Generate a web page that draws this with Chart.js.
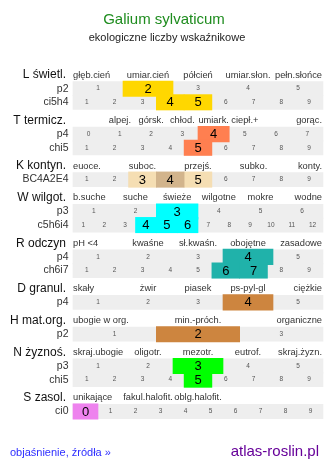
<!DOCTYPE html>
<html lang="pl">
<head>
<meta charset="utf-8">
<title>Galium sylvaticum</title>
<script src="https://cdn.jsdelivr.net/npm/chart.js@4.4.1/dist/chart.umd.min.js"></script>
<style>
  html, body { margin: 0; padding: 0; background: #fff; }
  #wrap { position: relative; width: 334px; height: 469px; }
</style>
</head>
<body>
<div id="wrap"><canvas id="chart"></canvas></div>
<script>
const titleText = 'Galium sylvaticum';
const subtitleText = 'ekologiczne liczby wskaźnikowe';
const linkText = 'objaśnienie, źródła »';
const siteText = 'atlas-roslin.pl';

// one header line per indicator
const groupNames = ['L świetl.', 'T termicz.', 'K kontyn.', 'W wilgot.', 'R odczyn', 'D granul.', 'H mat.org.', 'N żyznoś.', 'S zasol.'];
const groupTicks = [
  ['głęb.cień', 'umiar.cień', 'półcień', 'umiar.słon.', 'pełn.słońce'],
  ['', 'alpej.', 'górsk.', 'chłod.', 'umiark.', 'ciepł.+', '', 'gorąc.'],
  ['euoce.', '', 'suboc.', '', 'przejś.', '', 'subko.', '', 'konty.'],
  ['b.suche', 'suche', 'świeże', 'wilgotne', 'mokre', 'wodne'],
  ['pH <4', 'kwaśne', 'sł.kwaśn.', 'obojętne', 'zasadowe'],
  ['skały', 'żwir', 'piasek', 'ps-pyl-gl', 'ciężkie'],
  ['ubogie w org.', 'min.-próch.', 'organiczne'],
  ['skraj.ubogie', 'oligotr.', 'mezotr.', 'eutrof.', 'skraj.żyzn.'],
  ['unikające', 'fakul.halofit.', 'oblg.halofit.', '', '']
];
const groupColors = ['#ffd700', '#ff7f50', '#d2b48c', '#00ffff', '#20b2aa', '#cd853f', '#cd853f', '#00ff00', '#ee82ee'];
const nearColor = '#f5deb3';

// scale rows
const rowGroup = [0, 0, 1, 1, 2, 3, 3, 4, 4, 5, 6, 7, 7, 8];
const rowNames = ['p2', 'ci5h4', 'p4', 'chi5', 'BC4A2E4', 'p3', 'c5h6i4', 'p4', 'ch6i7', 'p4', 'p2', 'p3', 'chi5', 'ci0'];
const rowFirst = [1, 1, 0, 1, 1, 1, 1, 1, 1, 1, 1, 1, 1, 0];
const rowLast = [5, 9, 7, 9, 9, 6, 12, 5, 9, 5, 3, 5, 9, 9];
const rowMarked = [[2], [4, 5], [4], [5], [4], [3], [4, 5, 6], [4], [6, 7], [4], [2], [3], [5], [0]];
const rowNear = [[], [], [], [], [3, 5], [], [], [], [], [], [], [], [], []];

const FONT = '"Liberation Sans", Arial, sans-serif';

// vertical layout in line units: header, rows 3 apart, 4 to next header
const headerY = [];
const rowY = [];
let pos = 0;
groupNames.forEach((g, gi) => {
    if (gi > 0) pos += 4;
    headerY.push(pos);
    rowGroup.forEach((rg, ri) => {
        if (rg === gi) { pos += 3; rowY[ri] = pos; }
    });
});

const greyData = rowNames.map((n, i) => ({ x: [0, 1], y: rowY[i] }));
const markData = [];
const markColors = [];
rowNames.forEach((n, i) => {
    const cells = rowLast[i] - rowFirst[i] + 1;
    const add = (v, c) => {
        const k = v - rowFirst[i];
        markData.push({ x: [k / cells, (k + 1) / cells], y: rowY[i] });
        markColors.push(c);
    };
    rowNear[i].forEach(v => add(v, nearColor));
    rowMarked[i].forEach(v => add(v, groupColors[rowGroup[i]]));
});

const textLayer = {
    id: 'textLayer',
    afterDatasetsDraw(chart) {
        const ctx = chart.ctx;
        const xs = chart.scales.x, ys = chart.scales.y, area = chart.chartArea;
        ctx.save();
        ctx.textBaseline = 'middle';

        ctx.textAlign = 'center';
        ctx.fillStyle = '#1e8c1e';
        ctx.font = '15px ' + FONT;
        ctx.fillText(titleText, 164, 20);
        ctx.fillStyle = '#222';
        ctx.font = '11px ' + FONT;
        ctx.fillText(subtitleText, 167, 38);

        groupNames.forEach((g, gi) => {
            const y = ys.getPixelForValue(headerY[gi]);
            ctx.fillStyle = '#111';
            ctx.font = '12px ' + FONT;
            ctx.textAlign = 'right';
            ctx.fillText(g, 66, y);
            ctx.fillStyle = '#333';
            ctx.font = '9.3px ' + FONT;
            const t = groupTicks[gi];
            t.forEach((lab, j) => {
                if (!lab) return;
                if (j === 0) { ctx.textAlign = 'left'; ctx.fillText(lab, area.left, y); }
                else if (j === t.length - 1) { ctx.textAlign = 'right'; ctx.fillText(lab, area.right - 1, y); }
                else { ctx.textAlign = 'center'; ctx.fillText(lab, xs.getPixelForValue((j + 0.5) / t.length), y); }
            });
        });

        rowNames.forEach((n, i) => {
            const y = ys.getPixelForValue(rowY[i]);
            ctx.textAlign = 'right';
            ctx.fillStyle = '#333';
            ctx.font = '10.5px ' + FONT;
            ctx.fillText(n, 68.5, y);
            const cells = rowLast[i] - rowFirst[i] + 1;
            ctx.textAlign = 'center';
            for (let v = rowFirst[i]; v <= rowLast[i]; v++) {
                const x = xs.getPixelForValue((v - rowFirst[i] + 0.5) / cells);
                const big = rowMarked[i].includes(v) || rowNear[i].includes(v);
                ctx.fillStyle = big ? '#000' : '#555';
                ctx.font = (big ? '13px ' : '6.5px ') + FONT;
                ctx.fillText(String(v), x, y + (big ? 0.5 : 0));
            }
        });

        ctx.textAlign = 'left';
        ctx.fillStyle = '#2e2eff';
        ctx.font = '11px ' + FONT;
        ctx.fillText(linkText, 10, 453);
        ctx.textAlign = 'right';
        ctx.fillStyle = '#660099';
        ctx.font = '15px ' + FONT;
        ctx.fillText(siteText, 319, 452);
        ctx.restore();
    }
};

new Chart(document.getElementById('chart'), {
    type: 'bar',
    data: {
        datasets: [
            { data: markData, backgroundColor: markColors, barThickness: 15.4, order: 1 },
            { data: greyData, backgroundColor: '#eeeeee', barThickness: 14.2, order: 2 }
        ]
    },
    options: {
        indexAxis: 'y',
        responsive: true,
        maintainAspectRatio: false,
        animation: false,
        events: [],
        datasets: { bar: { grouped: false, borderWidth: 0, clip: false } },
        layout: { padding: { left: 73, right: 11, top: 43.77, bottom: 26.27 } },
        scales: {
            x: { type: 'linear', min: 0, max: 1, display: false },
            y: { type: 'linear', min: -2, max: 76, reverse: true, display: false }
        },
        plugins: { legend: { display: false }, tooltip: { enabled: false } }
    },
    plugins: [textLayer]
});
</script>
</body>
</html>
